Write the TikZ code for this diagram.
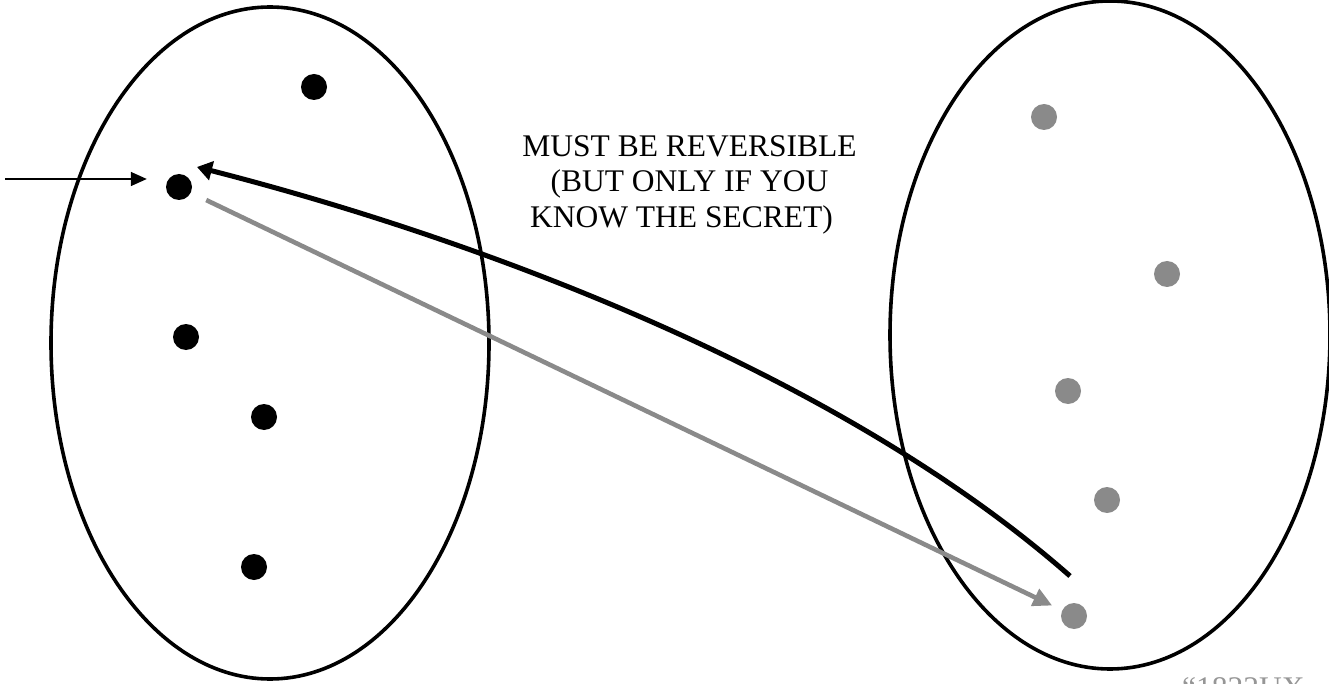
\documentclass[tikz,border=0pt]{standalone}
\usepackage{fontspec}
\setmainfont{Liberation Serif}
\usetikzlibrary{arrows.meta}
\definecolor{dotgray}{RGB}{138,138,138}
\definecolor{textgray}{RGB}{150,150,150}
\tikzset{
  setline/.style={line width=3.6pt,black},
  bdot/.style={circle,fill=black,inner sep=0pt,minimum size=26pt},
  gdot/.style={circle,fill=dotgray,inner sep=0pt,minimum size=26pt},
  thinarrow/.style={line width=1.5pt,-{Triangle[length=16pt,width=14pt]}},
  blackarrow/.style={line width=5pt,-{Triangle[length=15pt,width=19pt]}},
  grayarrow/.style={line width=4.6pt,dotgray,-{Triangle[length=19pt,width=18pt]}},
  lbl/.style={font=\fontsize{31.5}{35.5}\selectfont,inner sep=0pt,align=center}
}
\begin{document}
\begin{tikzpicture}[x=1pt,y=-1pt]
\useasboundingbox (0,0) rectangle (1329,684);
% sets
\draw[setline] (270,343) ellipse [x radius=219, y radius=336];
\draw[setline] (1110,335) ellipse [x radius=220, y radius=334];
% left dots
\node[bdot] (b1) at (314,87) {};
\node[bdot] (b2) at (179,187) {};
\node[bdot] (b3) at (186,337) {};
\node[bdot] (b4) at (264,417) {};
\node[bdot] (b5) at (254,567) {};
% right dots
\node[gdot] (g1) at (1044,117) {};
\node[gdot] (g2) at (1167,274) {};
\node[gdot] (g3) at (1068,391) {};
\node[gdot] (g4) at (1107,500) {};
\node[gdot] (g5) at (1074,616) {};
% free ends
\coordinate (in) at (5,179);
\coordinate (cs) at (1070,576);
\coordinate (ce) at (197,167);
% connectors
\draw[thinarrow,shorten >=19pt] (in) -- (b2.west |- in);
\draw[grayarrow,shorten <=17pt,shorten >=11pt] (b2) -- (g5);
\draw[blackarrow] (cs) .. controls (845,378) and (490,242) .. (ce);
% labels
\node[lbl,anchor=north] (msg) at (689.5,135) {MUST BE REVERSIBLE\\(BUT ONLY IF YOU\hspace*{12pt}\\KNOW THE SECRET)\hspace*{16pt}};
\node[lbl,anchor=north west,text=textgray] (ref) at (1182,677) {“1822UX};
\end{tikzpicture}
\end{document}
